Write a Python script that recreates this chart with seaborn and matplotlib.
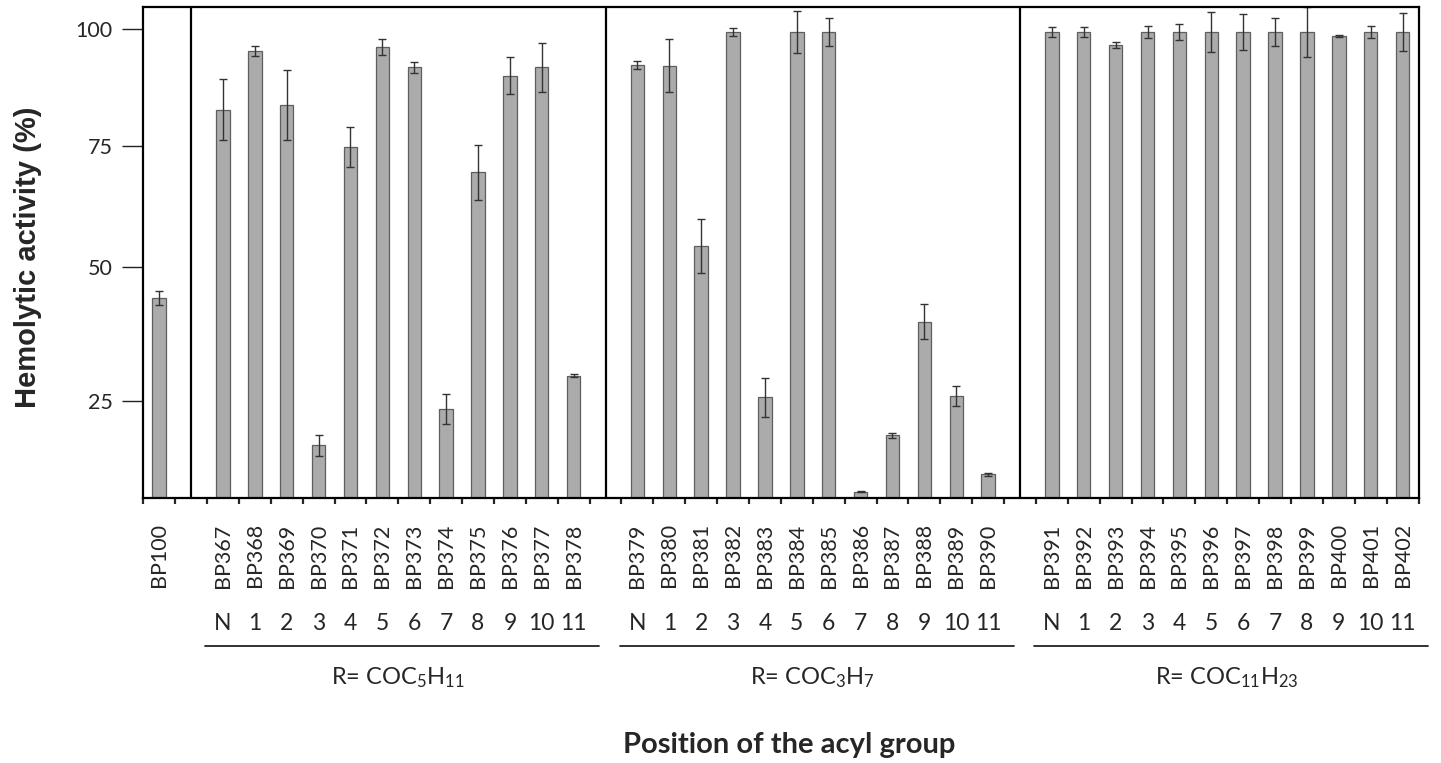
import numpy as np
import pandas as pd
import matplotlib
matplotlib.use("Agg")
import matplotlib.pyplot as plt
import seaborn as sns

# ---- data (hemolytic activity, %) ----
control_names = ["BP100"]
control_vals = [44.3]
control_errs = [1.3]

positions = ["N", "1", "2", "3", "4", "5", "6", "7", "8", "9", "10", "11"]

hex_names = ["BP367", "BP368", "BP369", "BP370", "BP371", "BP372",
             "BP373", "BP374", "BP375", "BP376", "BP377", "BP378"]
hex_vals = [82.7, 95.4, 83.7, 16.6, 74.8, 96.2, 91.8, 23.4, 69.5, 90.0, 91.8, 29.7]
hex_errs = [6.5, 1.1, 7.6, 2.0, 4.1, 1.7, 1.1, 2.8, 5.7, 4.0, 5.3, 0.3]

but_names = ["BP379", "BP380", "BP381", "BP382", "BP383", "BP384",
             "BP385", "BP386", "BP387", "BP388", "BP389", "BP390"]
but_vals = [92.3, 92.2, 54.4, 99.4, 25.6, 99.4, 99.4, 7.9, 18.5, 39.8, 25.9, 11.2]
but_errs = [0.8, 5.6, 5.5, 0.9, 3.6, 4.5, 3.0, 0.1, 0.5, 3.3, 1.9, 0.25]

lau_names = ["BP391", "BP392", "BP393", "BP394", "BP395", "BP396",
             "BP397", "BP398", "BP399", "BP400", "BP401", "BP402"]
lau_vals = [99.4, 99.4, 96.6, 99.4, 99.4, 99.4, 99.4, 99.4, 99.4, 98.5, 99.4, 99.4]
lau_errs = [1.1, 1.1, 0.6, 1.3, 1.7, 4.2, 3.8, 3.0, 5.4, 0.2, 1.3, 4.0]

group_titles = ["R= COC$_5$H$_{11}$", "R= COC$_3$H$_7$", "R= COC$_{11}$H$_{23}$"]
yticks = [25, 50, 75, 100]

# the original value axis has unequal tick spacing; mimic it with a piecewise scale
scale_vals = [0, 25, 50, 75, 100, 120]
scale_pos = [-35.8, 97.6, 231.0, 352.6, 469.0, 562.1]


def fwd(v):
    return np.interp(v, scale_vals, scale_pos)


def inv(p):
    return np.interp(p, scale_pos, scale_vals)


groups = [hex_names, but_names, lau_names]
df = pd.DataFrame({
    "peptide": control_names + hex_names + but_names + lau_names,
    "activity": control_vals + hex_vals + but_vals + lau_vals,
    "err": control_errs + hex_errs + but_errs + lau_errs,
})

# empty slots between the groups hold the separator lines
gaps = [" ", "  ", "   "]
order = control_names + [gaps[0]] + hex_names + [gaps[1]] + but_names + [gaps[2]] + lau_names

sns.set_style("ticks")
plt.rcParams["font.family"] = ["Lato", "DejaVu Sans"]
plt.rcParams["mathtext.fontset"] = "custom"
plt.rcParams["mathtext.rm"] = "Lato"
plt.rcParams["mathtext.it"] = "Lato:italic"
plt.rcParams["mathtext.bf"] = "Lato:bold"

fig = plt.figure(figsize=(14.41, 7.63), dpi=100)
ax = fig.add_axes([0.0994, 0.3469, 0.885, 0.6435])
ax.set_yscale("function", functions=(fwd, inv))

sns.barplot(data=df, x="peptide", y="activity", order=order, color="#ababab",
            saturation=1, width=0.42, edgecolor="#5e5e5e", linewidth=0.9,
            errorbar=None, ax=ax)

xpos = [order.index(n) for n in df["peptide"]]
ax.errorbar(xpos, df["activity"], yerr=df["err"], fmt="none", ecolor="#333333",
            elinewidth=1.0, capsize=3, capthick=1.0)

ax.set_ylim(6.7, 104.7)
ax.set_xlim(-0.5, len(order) - 0.5)
ax.set_yticks(yticks)
ax.set_yticklabels([str(t) for t in yticks])
ax.yaxis.set_minor_locator(matplotlib.ticker.NullLocator())

# separators between groups
for g in gaps:
    ax.axvline(order.index(g), color="black", lw=1.6)

for s in ax.spines.values():
    s.set_visible(True)
    s.set_linewidth(1.6)
    s.set_color("black")

ax.set_xticks(range(len(order)))
ax.set_xticklabels(order, rotation=90, fontsize=15.5)
ax.set_xticks(np.arange(-0.5, len(order), 1), minor=True)
ax.tick_params(axis="x", which="major", length=0, pad=18)
ax.tick_params(axis="x", which="minor", length=4, width=1.6, direction="out")
ax.tick_params(axis="y", length=15, width=1.0, labelsize=15.5, pad=7, color="#222222")
ax.set_xlabel("")

ax.set_ylabel("Hemolytic activity (%)", fontsize=21, fontweight="bold",
              family=["Liberation Sans", "DejaVu Sans"])
ax.yaxis.set_label_coords(-0.079, 0.49)

# position row, underline and acyl group name under each series
trans = ax.get_xaxis_transform()
for names, title in zip(groups, group_titles):
    for name, p in zip(names, positions):
        ax.text(order.index(name), -0.2546, p, transform=trans, ha="center",
                va="center", fontsize=16.5)
    first = order.index(names[0])
    last = order.index(names[-1])
    ax.plot([first - 0.55, last + 0.8], [-0.301, -0.301], transform=trans,
            color="#222222", lw=1.3, clip_on=False)
    ax.text((first + last) / 2, -0.366, title, transform=trans, ha="center",
            va="center", fontsize=17)

fig.text(0.548, 1 - 745 / 763, "Position of the acyl group", ha="center",
         va="center", fontsize=21, fontweight="bold")

fig.savefig("out.png", dpi=100)
